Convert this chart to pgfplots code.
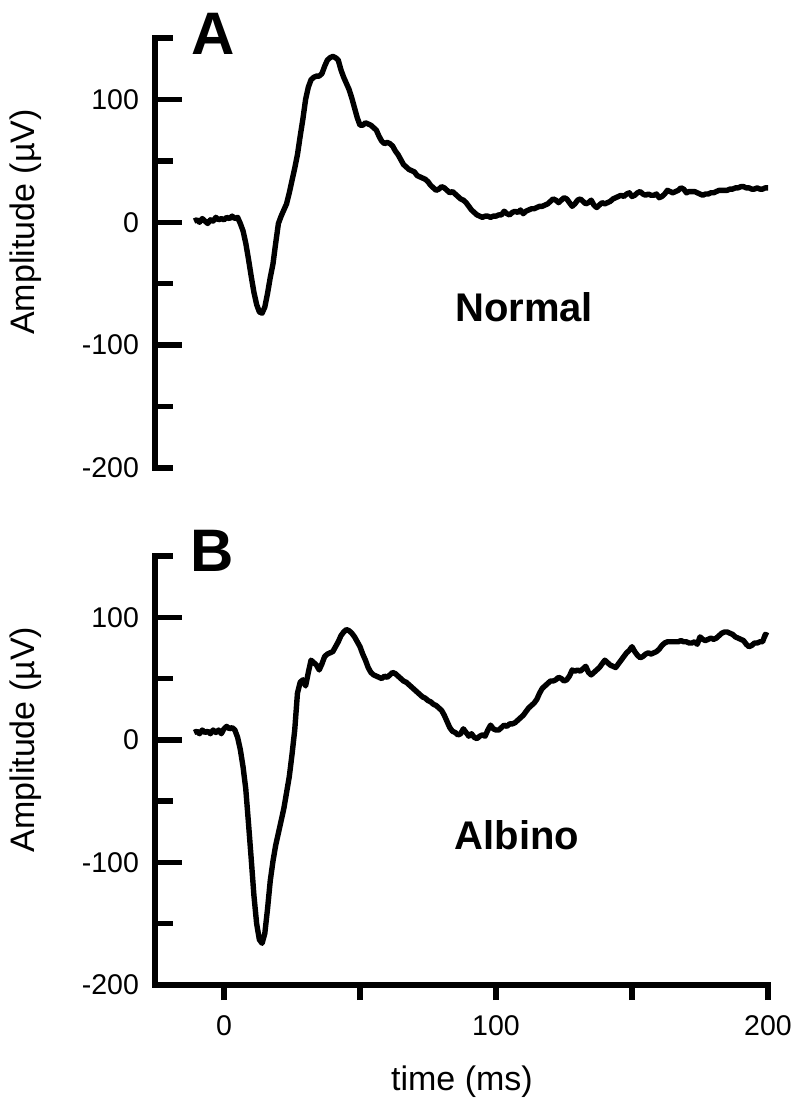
\documentclass[border=0pt]{standalone}
\usepackage{fontspec}
\setmainfont{Liberation Sans}
\usepackage{pgfplots}
\pgfplotsset{compat=1.18}
\usepackage{pgfplotstable}

\pgfplotstableread{
t v
-11 1
-10 2
-9 0
-8 3
-7 1
-6 -1
-5 2
-4 1
-3 4
-2 2
-1 3
0 2
1 4
2 3
3 5
4 3
5 4
6 -1
7 -7
8 -17
9 -30
10 -44
11 -57
12 -67
13 -73
14 -74
15 -69
16 -58
17 -45
18 -34
19 -17
20 -1
21 5
22 10
23 15
24 24
25 34
26 44
27 55
28 70
29 84
30 100
31 110
32 116
33 118
34 119
35 119
36 121
37 127
38 132
39 134
40 135
41 134
42 132
43 124
44 118
45 113
46 108
47 101
48 93
49 85
50 79
51 79
52 81
53 80
54 79
55 77
56 75
57 70
58 66
59 64
60 65
61 64
62 62
63 58
64 55
65 51
66 47
67 45
68 43
69 42
70 41
71 38
72 37
73 36
74 35
75 33
76 30
77 28
78 26
79 27
80 29
81 28
82 26
83 24
84 25
85 23
86 21
87 19
88 18
89 16
90 13
91 10
92 8
93 6
94 5
95 4
96 5
97 5
98 4
99 5
100 5
101 6
102 6
103 9
104 7
105 6
106 8
107 9
108 8
109 10
110 7
111 9
112 10
113 11
114 11
115 12
116 13
117 13
118 14
119 15
120 17
121 19
122 18
123 16
124 18
125 20
126 19
127 16
128 13
129 15
130 18
131 19
132 17
133 15
134 16
135 18
136 14
137 12
138 14
139 16
140 15
141 16
142 17
143 19
144 20
145 21
146 22
147 21
148 23
149 24
150 21
151 22
152 24
153 25
154 23
155 22
156 23
157 22
158 22
159 23
160 20
161 21
162 23
163 26
164 25
165 24
166 25
167 26
168 28
169 27
170 24
171 25
172 25
173 25
174 24
175 23
176 22
177 23
178 23
179 24
180 24
181 25
182 26
183 26
184 26
185 26
186 27
187 27
188 28
189 28
190 29
191 29
192 28
193 28
194 27
195 27
196 28
197 27
198 27
199 28
200 28
}\normaldata

\pgfplotstableread{
t v
-11 6
-10 7
-9 5
-8 8
-7 6
-6 7
-5 5
-4 8
-3 6
-2 8
-1 5
0 9
1 11
2 9
3 10
4 8
5 2
6 -8
7 -22
8 -40
9 -68
10 -97
11 -127
12 -150
13 -163
14 -166
15 -158
16 -138
17 -115
18 -99
19 -86
20 -76
21 -66
22 -56
23 -43
24 -30
25 -12
26 8
27 38
28 47
29 49
30 44
31 55
32 65
33 63
34 61
35 57
36 62
37 68
38 70
39 71
40 72
41 76
42 80
43 85
44 88
45 90
46 89
47 87
48 84
49 80
50 76
51 70
52 65
53 59
54 55
55 53
56 52
57 51
58 50
59 52
60 51
61 53
62 55
63 54
64 52
65 50
66 48
67 47
68 45
69 43
70 41
71 39
72 37
73 35
74 34
75 32
76 31
77 29
78 28
79 26
80 24
81 20
82 15
83 10
84 7
85 6
86 4
87 5
88 9
89 6
90 3
91 5
92 2
93 1
94 3
95 4
96 3
97 8
98 12
99 9
100 8
101 8
102 10
103 12
104 11
105 13
106 13
107 14
108 16
109 18
110 20
111 23
112 26
113 28
114 30
115 33
116 38
117 42
118 44
119 46
120 48
121 48
122 49
123 51
124 50
125 48
126 49
127 52
128 57
129 56
130 57
131 56
132 58
133 60
134 55
135 53
136 55
137 57
138 59
139 62
140 65
141 63
142 61
143 60
144 59
145 62
146 65
147 68
148 71
149 73
150 76
151 72
152 69
153 67
154 68
155 70
156 71
157 70
158 71
159 72
160 74
161 77
162 79
163 80
164 80
165 80
166 80
167 80
168 81
169 80
170 80
171 79
172 79
173 80
174 78
175 84
176 82
177 81
178 82
179 83
180 82
181 83
182 85
183 87
184 88
185 88
186 87
187 86
188 84
189 83
190 82
191 81
192 78
193 76
194 77
195 79
196 79
197 80
198 80
199 86
200 85
}\albinodata

\pgfplotsset{
  common/.style={
    scale only axis, width=306.5pt,
    xmin=-25.37, xmax=200, ymin=-200, ymax=150,
    clip=false,
    /pgf/number format/assume math mode=true,
    tick label style={font=\fontsize{14.25}{16}\selectfont},
    label style={font=\fontsize{17}{20}\selectfont},
    axis line style={line width=2.75pt, line cap=rect},
    every tick/.style={black, line width=2.75pt},
  },
  yax/.style={
    axis y line*=left, axis x line=none,
    ytick={-100,0,100}, minor ytick={-150,-50,50,150},
    extra y ticks={-200}, extra y tick style={major tick length=8.75pt},
    tick align=inside, major tick length=13.5pt, minor tick length=8.75pt,
    yticklabel style={xshift=-4.5pt},
    ylabel={Amplitude (µV)},
    ylabel style={at={(axis description cs:-0.2104,0.572)}, anchor=center},
  },
  curve/.style={black, line width=2.7pt, line join=round, no marks},
}

\begin{document}
\begin{tikzpicture}
\useasboundingbox (0,0) rectangle (400pt,553.5pt);
% Panel A
\begin{axis}[common, yax, height=215pt, at={(77.5pt,319.5pt)}, anchor=south west]
\addplot[curve] table[x=t,y=v] {\normaldata};
\node[anchor=base, font=\fontsize{30}{34}\selectfont\bfseries] at (rel axis cs:0.0946,0.9605) {A};
\node[anchor=base, font=\fontsize{20}{24}\selectfont\bfseries] at (rel axis cs:0.602,0.340) {Normal};
\end{axis}
% Panel B
\begin{axis}[common, yax, height=214.5pt, at={(77.5pt,61pt)}, anchor=south west]
\addplot[curve] table[x=t,y=v] {\albinodata};
\node[anchor=base, font=\fontsize{30}{34}\selectfont\bfseries] at (rel axis cs:0.0938,0.9627) {B};
\node[anchor=base, font=\fontsize{20}{24}\selectfont\bfseries] at (rel axis cs:0.5905,0.316) {Albino};
\end{axis}
\begin{axis}[common, height=214.5pt, at={(77.5pt,61pt)}, anchor=south west,
  axis x line*=bottom, axis y line=none,
  xtick={0,50,100,150,200}, xticklabels={0,,100,,200},
  tick align=outside, major tick length=7.5pt,
  xticklabel style={yshift=-4.5pt},
  xlabel={time (ms)},
  xlabel style={at={(axis description cs:0.5008,-0.226)}, anchor=center}]
\end{axis}
\end{tikzpicture}
\end{document}
